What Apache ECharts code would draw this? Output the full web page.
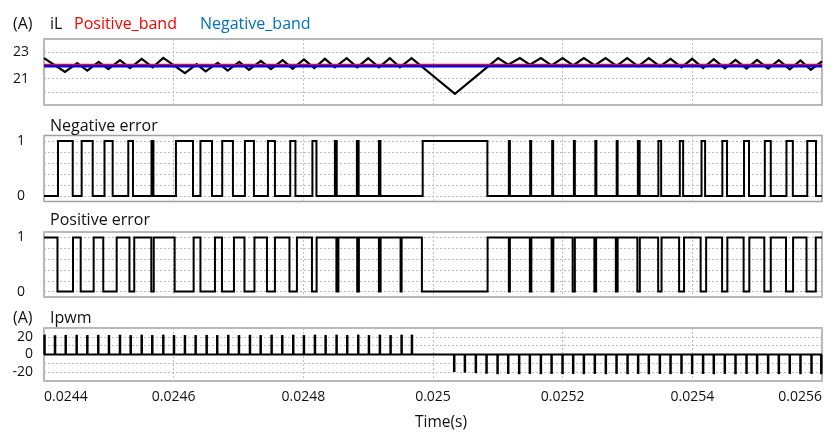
<!DOCTYPE html>
<html><head><meta charset="utf-8">
<script src="https://cdn.jsdelivr.net/npm/echarts@6/dist/echarts.min.js"></script>
<style>html,body{margin:0;padding:0;background:#fff}#c{width:834px;height:432px}</style>
</head><body><div id="c"></div>
<script>
// ---------- data ----------
const timeRange = [0.0244, 0.0256];
const timeStep = 0.0002;

// iL (A): triangle vertices
const iLTime = [0.0244, 0.0244324, 0.0244513, 0.0244668, 0.0244843, 0.0244992, 0.0245172, 0.0245326,
  0.0245507, 0.0245676, 0.0245840, 0.0246174, 0.0246355, 0.0246493, 0.0246679, 0.0246833,
  0.0247012, 0.0247161, 0.0247346, 0.0247500, 0.0247681, 0.0247835, 0.0248009, 0.0248168,
  0.0248333, 0.0248487, 0.0248668, 0.0248831, 0.0249001, 0.0249166, 0.0249335, 0.0249490,
  0.0249670, 0.0250338, 0.0251005, 0.0251160, 0.0251340, 0.0251494, 0.0251664, 0.0251829,
  0.0251998, 0.0252162, 0.0252327, 0.0252496, 0.0252661, 0.0252831, 0.0252995, 0.0253164,
  0.0253329, 0.0253499, 0.0253664, 0.0253833, 0.0253997, 0.0254166, 0.0254331, 0.0254501,
  0.0254666, 0.0254836, 0.0254999, 0.0255169, 0.0255334, 0.0255503, 0.0255668, 0.0255827, 0.0256];
const iLValue = [22.55, 21.5, 22.17, 21.6, 22.27, 21.72, 22.4, 21.8,
  22.5, 21.85, 22.57, 21.42, 22.1, 21.55, 22.2, 21.6,
  22.27, 21.67, 22.35, 21.72, 22.4, 21.75, 22.45, 21.8,
  22.5, 21.85, 22.55, 21.85, 22.55, 21.85, 22.55, 21.85,
  22.55, 19.85, 22.55, 22.05, 22.55, 22.05, 22.55, 22.0,
  22.55, 22.0, 22.55, 22.0, 22.55, 21.97, 22.55, 21.92,
  22.55, 21.92, 22.5, 21.85, 22.5, 21.8, 22.47, 21.77,
  22.42, 21.75, 22.42, 21.75, 22.4, 21.7, 22.37, 21.67, 22.3];
const positiveBand = 22.05;
const negativeBand = 21.93;

// Negative error: 0 -> 1 at rise, 1 -> 0 at fall
const negErrRise = [0.0244216, 0.0244581, 0.0244933, 0.0245300, 0.0245658, 0.0246035, 0.0246413, 0.0246749,
  0.0247099, 0.0247454, 0.0247798, 0.0248140, 0.0248487, 0.0248826, 0.0249166, 0.0249841,
  0.0251170, 0.0251499, 0.0251838, 0.0252173, 0.0252504, 0.0252833, 0.0253160, 0.0253476,
  0.0253807, 0.0254142, 0.0254463, 0.0254797, 0.0255118, 0.0255452, 0.0255773];
const negErrFall = [0.0244443, 0.0244751, 0.0245059, 0.0245372, 0.0245688, 0.0246298, 0.0246591, 0.0246914,
  0.0247238, 0.0247562, 0.0247878, 0.0248202, 0.0248515, 0.0248853, 0.0249189, 0.0250839,
  0.0251186, 0.0251514, 0.0251853, 0.0252188, 0.0252520, 0.0252848, 0.0253187, 0.0253519,
  0.0253858, 0.0254197, 0.0254535, 0.0254874, 0.0255210, 0.0255550, 0.0255907];

// Positive error: 1 -> 0 at fall, 0 -> 1 at rise
const posErrFall = [0.0244208, 0.0244566, 0.0244914, 0.0245318, 0.0245655, 0.0246015, 0.0246413, 0.0246745,
  0.0247092, 0.0247439, 0.0247786, 0.0248133, 0.0248510, 0.0248831, 0.0249166, 0.0249500,
  0.0249829, 0.0251170, 0.0251494, 0.0251829, 0.0252154, 0.0252489, 0.0252820, 0.0253152,
  0.0253473, 0.0253796, 0.0254128, 0.0254459, 0.0254791, 0.0255110, 0.0255445, 0.0255761];
const posErrRise = [0.0244447, 0.0244766, 0.0245121, 0.0245392, 0.0245693, 0.0246308, 0.0246637, 0.0246930,
  0.0247246, 0.0247562, 0.0247901, 0.0248205, 0.0248541, 0.0248857, 0.0249192, 0.0249516,
  0.0250842, 0.0251186, 0.0251517, 0.0251856, 0.0252188, 0.0252516, 0.0252848, 0.0253190,
  0.0253525, 0.0253872, 0.0254213, 0.0254540, 0.0254879, 0.0255210, 0.0255554, 0.0255904];

// Ipwm (A): pulses
const ipwmPosTime = [0.0244008, 0.0244170, 0.0244335, 0.0244504, 0.0244668, 0.0244837, 0.0245002, 0.0245172,
  0.0245337, 0.0245507, 0.0245670, 0.0245840, 0.0246005, 0.0246174, 0.0246339, 0.0246509,
  0.0246672, 0.0246842, 0.0247007, 0.0247177, 0.0247342, 0.0247511, 0.0247675, 0.0247844,
  0.0248009, 0.0248179, 0.0248344, 0.0248513, 0.0248677, 0.0248847, 0.0249012, 0.0249181,
  0.0249346, 0.0249516, 0.0249675];
const ipwmPosValue = [22.5, 21.8, 22.2, 22.3, 22.0, 22.3, 22.0, 22.4,
  22.0, 22.5, 22.0, 22.5, 22.0, 22.0, 22.0, 22.2,
  22.0, 22.3, 22.0, 22.3, 22.0, 22.4, 22.0, 22.4,
  22.0, 22.5, 22.0, 22.5, 22.0, 22.5, 22.0, 22.5,
  22.0, 22.5, 22.5];
const ipwmNegTime = [0.0250327, 0.0250492, 0.0250661, 0.0250826, 0.0250996, 0.0251160, 0.0251329, 0.0251494,
  0.0251664, 0.0251829, 0.0251998, 0.0252162, 0.0252327, 0.0252496, 0.0252666, 0.0252831,
  0.0253001, 0.0253164, 0.0253329, 0.0253499, 0.0253664, 0.0253833, 0.0253997, 0.0254166,
  0.0254331, 0.0254501, 0.0254666, 0.0254836, 0.0254999, 0.0255169, 0.0255334, 0.0255503,
  0.0255668, 0.0255838, 0.0255989];
const ipwmNegValue = [-19.9, -20.5, -21.2, -21.8, -22.3, -22.0, -22.3, -22.0,
  -22.3, -22.0, -22.3, -22.0, -22.3, -22.0, -22.3, -22.0,
  -22.3, -22.0, -22.3, -22.0, -22.3, -22.0, -22.3, -22.0,
  -22.3, -22.0, -22.3, -22.0, -22.3, -22.0, -22.3, -22.0,
  -22.3, -22.0, -22.3];
const ipwmBaseline = 0;

// tick labels
const iLTickLabels = [21, 23];
const errTickLabels = [0, 1];
const errGridValues = [0, 0.2, 0.4, 0.6, 0.8, 1];
const ipwmTickLabels = [-20, 0, 20];

// ---------- build ----------
const FONT = '"Open Sans", "Noto Sans", sans-serif';
const iLData = iLTime.map((t, i) => [t, iLValue[i]]);
function stepFromLow(rise, fall) {
  const d = [[timeRange[0], 0]];
  rise.forEach((r, i) => { d.push([r, 0], [r, 1], [fall[i], 1], [fall[i], 0]); });
  d.push([timeRange[1], 0]);
  return d;
}
function stepFromHigh(fall, rise) {
  const d = [[timeRange[0], 1]];
  fall.forEach((f, i) => { d.push([f, 1], [f, 0], [rise[i], 0], [rise[i], 1]); });
  d.push([timeRange[1], 1]);
  return d;
}
const negErrData = stepFromLow(negErrRise, negErrFall);
const posErrData = stepFromHigh(posErrFall, posErrRise);
const ipwmPulses = ipwmPosTime.map((t, i) => [t, ipwmPosValue[i]])
  .concat(ipwmNegTime.map((t, i) => [t, ipwmNegValue[i]]));

const gridBox = [
  { top: 39, height: 66 },
  { top: 135.5, height: 66 },
  { top: 232, height: 65 },
  { top: 328, height: 59 }
];
const gridStyle = { left: 44, right: 12, show: true, borderColor: '#a0a0a0', borderWidth: 1.5, backgroundColor: 'transparent' };
const splitStyle = { show: true, lineStyle: { color: '#bdbdbd', type: [2, 2], width: 1 } };
const labelBase = { fontFamily: FONT, fontSize: 14, color: '#111' };

function only(list) { return v => (list.some(x => Math.abs(x - v) < 1e-9) ? String(v) : ''); }

const xAxes = gridBox.map((g, i) => ({
  gridIndex: i, type: 'value', min: timeRange[0], max: timeRange[1], interval: timeStep,
  axisLine: { show: false }, axisTick: { show: false }, splitLine: splitStyle,
  axisLabel: Object.assign({}, labelBase, {
    show: i === 3, margin: 9, alignMinLabel: 'left', alignMaxLabel: 'right',
    formatter: v => String(+(+v).toFixed(4))
  }),
  name: i === 3 ? 'Time(s)' : '', nameLocation: 'middle', nameGap: 34,
  nameTextStyle: { fontFamily: FONT, fontSize: 15.5, color: '#111', padding: [0, 0, 0, 16] }
}));

const yAxes = [
  { gridIndex: 0, type: 'value', min: 19, max: 24, interval: 1,
    axisLabel: Object.assign({}, labelBase, { margin: 15, customValues: iLTickLabels, formatter: only(iLTickLabels) }) },
  { gridIndex: 1, type: 'value', min: -0.1, max: 1.1,
    axisTick: { show: false, customValues: errGridValues },
    axisLabel: Object.assign({}, labelBase, { margin: 19, customValues: errTickLabels, formatter: only(errTickLabels), padding: [5, 0, 0, 0] }) },
  { gridIndex: 2, type: 'value', min: -0.1, max: 1.1,
    axisTick: { show: false, customValues: errGridValues },
    axisLabel: Object.assign({}, labelBase, { margin: 19, customValues: errTickLabels, formatter: only(errTickLabels), padding: [5, 0, 0, 0] }) },
  { gridIndex: 3, type: 'value', min: -30, max: 30, interval: 10,
    axisLabel: Object.assign({}, labelBase, { margin: 11, customValues: ipwmTickLabels, formatter: only(ipwmTickLabels) }) }
].map(a => Object.assign({ axisLine: { show: false }, axisTick: { show: false }, splitLine: splitStyle }, a));

function lineSeries(name, idx, data, color, width, z) {
  return { name, type: 'line', xAxisIndex: idx, yAxisIndex: idx, data, showSymbol: false, symbol: 'none',
    lineStyle: { color, width, join: 'miter', cap: 'butt' }, itemStyle: { color }, z, silent: true };
}
// polyline through all points (no point thinning), for the step signals
function waveSeries(name, idx, data, color, width, z) {
  return { name, type: 'lines', coordinateSystem: 'cartesian2d', xAxisIndex: idx, yAxisIndex: idx,
    polyline: true, data: [{ coords: data }], silent: true, z,
    lineStyle: { color, width, opacity: 1, curveness: 0, join: 'miter', miterLimit: 4, cap: 'butt' } };
}

const series = [
  waveSeries('iL', 0, iLData, '#000', 2.2, 2),
  lineSeries('Positive_band', 0, [[timeRange[0], positiveBand], [timeRange[1], positiveBand]], '#ff0000', 2, 3),
  lineSeries('Negative_band', 0, [[timeRange[0], negativeBand], [timeRange[1], negativeBand]], '#0000ff', 2.5, 4),
  waveSeries('Negative error', 1, negErrData, '#000', 2, 2),
  waveSeries('Positive error', 2, posErrData, '#000', 2, 2),
  lineSeries('Ipwm', 3, [[timeRange[0], ipwmBaseline], [timeRange[1], ipwmBaseline]], '#000', 2, 3),
  { name: 'Ipwm pulses', type: 'bar', xAxisIndex: 3, yAxisIndex: 3, data: ipwmPulses, barWidth: 2.5,
    itemStyle: { color: '#000' }, z: 2, silent: true }
];

function txt(text, x, y, color, size) {
  return { type: 'text', x, y, silent: true,
    style: { text, fill: color || '#111', font: (size || 16) + 'px ' + FONT, verticalAlign: 'middle', align: 'left' } };
}
const graphic = [
  txt('(A)', 13, 24), txt('iL', 50, 24),
  txt('Positive_band', 74, 24, '#ff0000'), txt('Negative_band', 200, 24, '#0070c0'),
  txt('Negative error', 50, 126), txt('Positive error', 50, 220),
  txt('(A)', 13, 318), txt('Ipwm', 50, 318)
];

const chart = echarts.init(document.getElementById('c'), null, { renderer: 'canvas' });
chart.setOption({
  animation: false,
  backgroundColor: '#fff',
  grid: gridBox.map(g => Object.assign({}, gridStyle, g)),
  xAxis: xAxes, yAxis: yAxes, series, graphic
});
</script>
</body></html>
